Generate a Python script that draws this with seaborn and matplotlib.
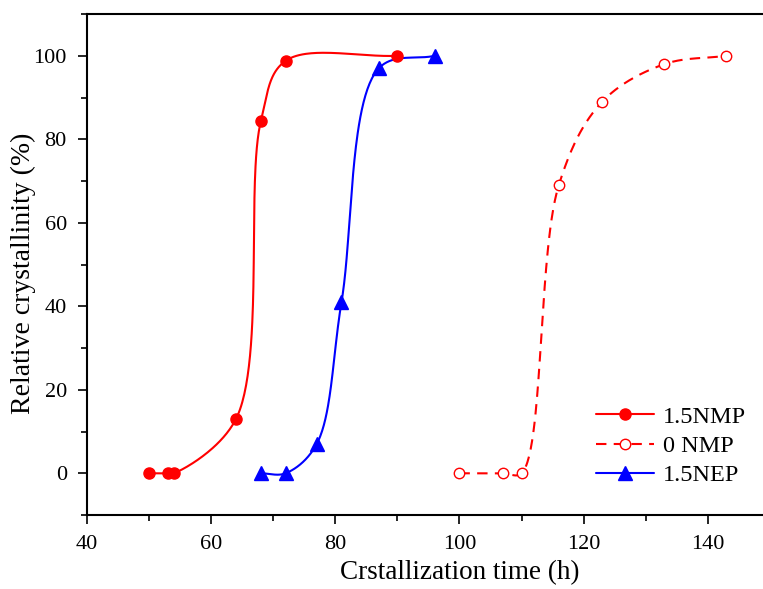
import numpy as np
import pandas as pd
import matplotlib
matplotlib.use("Agg")
import matplotlib.pyplot as plt
import seaborn as sns
from matplotlib.lines import Line2D
from matplotlib.ticker import MultipleLocator

# ---- data ----
nmp15_x = [50, 53, 54, 64, 68, 72, 90]
nmp15_y = [0, 0, 0, 13, 84.3, 98.8, 100]
nmp0_x = [100, 107, 110, 116, 123, 133, 143]
nmp0_y = [0, 0, 0, 69, 89, 98, 100]
nep15_x = [68, 72, 77, 81, 87, 96]
nep15_y = [0, 0, 7, 41, 97, 100]
labels = ["1.5NMP", "0 NMP", "1.5NEP"]

# pixel scale of the axes (px per data unit), used only for the curve shape
SX, SY = 6.21, 4.18


def smooth_curve(x, y, alpha=0.5, n=60):
    """Centripetal Catmull-Rom spline through the points (in screen space)."""
    P = np.column_stack([np.asarray(x, float) * SX, np.asarray(y, float) * SY])
    m = len(P)
    d = np.linalg.norm(np.diff(P, axis=0), axis=1) ** alpha
    t = np.concatenate([[0], np.cumsum(d)])
    T = np.zeros_like(P)
    for i in range(m):
        if i == 0:
            T[i] = (P[1] - P[0]) / (t[1] - t[0])
        elif i == m - 1:
            T[i] = (P[-1] - P[-2]) / (t[-1] - t[-2])
        else:
            T[i] = ((P[i] - P[i - 1]) / (t[i] - t[i - 1])
                    - (P[i + 1] - P[i - 1]) / (t[i + 1] - t[i - 1])
                    + (P[i + 1] - P[i]) / (t[i + 1] - t[i]))
    out = []
    for i in range(m - 1):
        dt = t[i + 1] - t[i]
        s = np.linspace(0, 1, n)[:, None]
        h00 = 2 * s ** 3 - 3 * s ** 2 + 1
        h10 = s ** 3 - 2 * s ** 2 + s
        h01 = -2 * s ** 3 + 3 * s ** 2
        h11 = s ** 3 - s ** 2
        seg = h00 * P[i] + h10 * dt * T[i] + h01 * P[i + 1] + h11 * dt * T[i + 1]
        out.append(seg if i == 0 else seg[1:])
    C = np.vstack(out)
    return C[:, 0] / SX, C[:, 1] / SY


sns.set_theme(style="ticks")
plt.rcParams["font.family"] = "serif"
plt.rcParams["font.serif"] = ["Liberation Serif", "Times New Roman", "DejaVu Serif"]
plt.rcParams["text.color"] = "black"
plt.rcParams["axes.labelcolor"] = "black"

fig = plt.figure(figsize=(7.63, 5.89), dpi=100)
ax = fig.add_axes([0.114, 0.1256, 0.886, 0.8505])

series = [
    (nmp15_x, nmp15_y, "red", "-", "o", "red", 8),
    (nmp0_x, nmp0_y, "red", (0, (5, 3.5)), "o", "white", 7.5),
    (nep15_x, nep15_y, "blue", "-", "^", "blue", 10),
]

handles = []
for (xv, yv, col, ls, mk, mfc, ms), lab in zip(series, labels):
    xs, ys = smooth_curve(xv, yv)
    curve = pd.DataFrame({"x": xs, "y": ys})
    sns.lineplot(data=curve, x="x", y="y", ax=ax, color=col, linestyle=ls,
                 linewidth=1.5, sort=False, estimator=None)
    pts = pd.DataFrame({"x": xv, "y": yv})
    ax.plot(pts["x"], pts["y"], linestyle="none", marker=mk, markersize=ms,
            markerfacecolor=mfc, markeredgecolor=col, markeredgewidth=1.0,
            zorder=5)
    handles.append(Line2D([], [], color=col, linestyle=ls, linewidth=1.5,
                          marker=mk, markersize=ms, markerfacecolor=mfc,
                          markeredgecolor=col, markeredgewidth=1.0))

ax.set_xlim(40, 148.9)
ax.set_ylim(-10, 110)
ax.xaxis.set_major_locator(MultipleLocator(20))
ax.xaxis.set_minor_locator(MultipleLocator(10))
ax.yaxis.set_major_locator(MultipleLocator(20))
ax.yaxis.set_minor_locator(MultipleLocator(10))
ax.set_yticks([0, 20, 40, 60, 80, 100])

for s in ["left", "bottom", "top"]:
    ax.spines[s].set_linewidth(1.5)
    ax.spines[s].set_color("black")
ax.spines["right"].set_visible(False)

ax.tick_params(axis="both", which="major", direction="out", length=6.5,
               width=1.2, labelsize=16, colors="black")
ax.tick_params(axis="x", which="major", pad=8)
ax.tick_params(axis="y", which="major", pad=8)
ax.tick_params(axis="both", which="minor", direction="out", length=4,
               width=1.2, colors="black")
ax.tick_params(top=False, right=False, which="both")

ax.set_xlabel("Crstallization time (h)", fontsize=19.5, labelpad=4, x=0.552,
              color="black")
ax.set_ylabel("Relative crystallinity (%)", fontsize=20, labelpad=-1.5,
              y=0.483, color="black")

leg = ax.legend(handles, labels, loc="lower right",
                bbox_to_anchor=(0.975, 0.057), frameon=False, fontsize=17.5,
                handlelength=2.4, handletextpad=0.35, labelspacing=0.3,
                borderpad=0, borderaxespad=0)
for txt in leg.get_texts():
    txt.set_color("black")

fig.savefig("out.png", dpi=100)
